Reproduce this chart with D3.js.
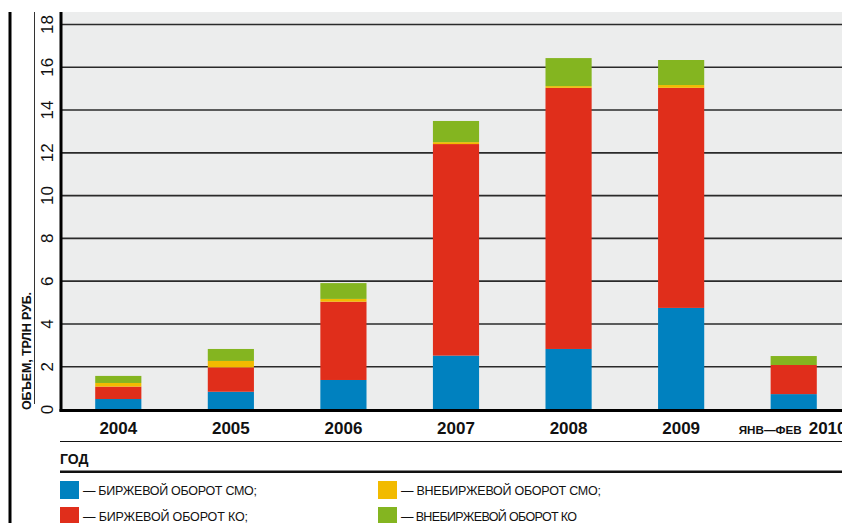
<!DOCTYPE html>
<html>
<head>
<meta charset="utf-8">
<script src="https://cdn.jsdelivr.net/npm/d3@7"></script>
<style>
  html, body { margin: 0; padding: 0; background: #fff; }
  svg { display: block; }
</style>
</head>
<body>
<svg id="chart" width="842" height="523"></svg>
<script>
// Annual repo turnover, trillion roubles
const years = ["2004", "2005", "2006", "2007", "2008", "2009", "2010"];
const yearLabels = ["2004", "2005", "2006", "2007", "2008", "2009", "ЯНВ—ФЕВ 2010"];
const exchangeCB = [0.49, 0.83, 1.38, 2.52, 2.83, 4.75, 0.72];     // биржевой оборот СМО
const exchangeCO = [0.58, 1.14, 3.66, 9.89, 12.21, 10.29, 1.36];   // биржевой оборот КО
const otcCB = [0.17, 0.30, 0.13, 0.09, 0.08, 0.13, 0.00];          // внебиржевой оборот СМО
const otcCO = [0.33, 0.56, 0.74, 0.99, 1.31, 1.17, 0.42];          // внебиржевой оборот КО
const yTicks = [0, 2, 4, 6, 8, 10, 12, 14, 16, 18];
const seriesNames = [
  "— БИРЖЕВОЙ ОБОРОТ СМО;",
  "— БИРЖЕВОЙ ОБОРОТ КО;",
  "— ВНЕБИРЖЕВОЙ ОБОРОТ СМО;",
  "— ВНЕБИРЖЕВОЙ ОБОРОТ КО"
];
const seriesKeys = ["exCB", "exCO", "otcCB", "otcCO"];
const colors = ["#0081bf", "#e02e1b", "#f2bb00", "#84b520"];

const rows = years.map((y, i) => ({
  year: y,
  exCB: exchangeCB[i], exCO: exchangeCO[i], otcCB: otcCB[i], otcCO: otcCO[i]
}));

const svg = d3.select("#chart");
const W = 842;
const plotLeft = 61, plotTop = 12, plotBottom = 409.5;
const narrow = "'Liberation Sans Narrow', 'Liberation Sans', sans-serif";
const regular = "'Liberation Sans', Arial, sans-serif";

const x = d3.scaleBand().domain(years).range([62, 850]).paddingInner(0.59).paddingOuter(0.295);
const y = d3.scaleLinear().domain([0, 18]).range([plotBottom, 24.5]);

// plot background
svg.append("rect")
  .attr("x", plotLeft).attr("y", plotTop)
  .attr("width", W - plotLeft).attr("height", plotBottom - plotTop)
  .attr("fill", "#eceded");

// grid lines
svg.append("g").selectAll("line").data(yTicks.filter(t => t > 0)).join("line")
  .attr("x1", plotLeft).attr("x2", W)
  .attr("y1", d => y(d)).attr("y2", d => y(d))
  .attr("stroke", "#2a2a2a").attr("stroke-width", 1.6);

// stacked bars
const stack = d3.stack().keys(seriesKeys)(rows);
svg.append("g").selectAll("g").data(stack).join("g")
  .attr("fill", (d, i) => colors[i])
  .selectAll("rect").data(d => d).join("rect")
  .attr("x", d => x(d.data.year))
  .attr("width", x.bandwidth())
  .attr("y", d => y(d[1]))
  .attr("height", d => Math.max(0, y(d[0]) - y(d[1])));

// y axis (rotated tick labels)
const yAxis = d3.axisLeft(y).tickValues(yTicks).tickSize(0).tickFormat(d3.format("d"));
const gy = svg.append("g").attr("transform", `translate(${plotLeft},0)`).call(yAxis);
gy.select(".domain").remove();
gy.selectAll("text")
  .attr("x", 0).attr("dy", 0)
  .attr("transform", d => `translate(-8,${y(d)}) rotate(-90)`)
  .attr("text-anchor", "middle")
  .attr("font-family", regular)
  .attr("font-size", 17)
  .attr("fill", "#111");
gy.selectAll(".tick").attr("transform", null);

// thick left axis line and baseline
svg.append("line").attr("x1", plotLeft).attr("x2", plotLeft).attr("y1", plotTop).attr("y2", 411.5)
  .attr("stroke", "#000").attr("stroke-width", 3);
svg.append("line").attr("x1", plotLeft - 1.5).attr("x2", W).attr("y1", 410.5).attr("y2", 410.5)
  .attr("stroke", "#000").attr("stroke-width", 3);

// x axis labels
const xAxis = d3.axisBottom(x).tickSize(0).tickFormat((d, i) => yearLabels[i]);
const gx = svg.append("g").attr("transform", `translate(0,${plotBottom})`).call(xAxis);
gx.select(".domain").remove();
gx.selectAll("text").each(function(d, i) {
  const t = d3.select(this).text(null)
    .attr("y", 24.5).attr("dy", 0)
    .attr("font-family", regular)
    .attr("font-weight", "bold").attr("fill", "#111");
  const label = yearLabels[i];
  if (label.includes(" ")) {
    const parts = label.split(" ");
    t.attr("text-anchor", "start").attr("x", -55);
    t.append("tspan").attr("font-size", 11.5)
      .attr("textLength", 63).attr("lengthAdjust", "spacingAndGlyphs").text(parts[0]);
    t.append("tspan").attr("dx", 7).attr("font-size", 17).text(parts[1]);
  } else {
    t.attr("font-size", 17).text(label);
  }
});

// frame lines on the left
svg.append("line").attr("x1", 10).attr("x2", 10).attr("y1", plotTop).attr("y2", 523)
  .attr("stroke", "#000").attr("stroke-width", 3);
svg.append("line").attr("x1", 34.5).attr("x2", 34.5).attr("y1", plotTop).attr("y2", 404)
  .attr("stroke", "#333").attr("stroke-width", 1);

// y axis title
svg.append("text")
  .attr("transform", `translate(31,410) rotate(-90)`)
  .attr("text-anchor", "start")
  .attr("font-family", narrow)
  .attr("font-weight", "bold").attr("font-size", 12.5)
  .attr("textLength", 118).attr("lengthAdjust", "spacing")
  .attr("fill", "#111")
  .text("ОБЪЕМ, ТРЛН РУБ.");

// x axis title block
svg.append("line").attr("x1", 60).attr("x2", W).attr("y1", 441.5).attr("y2", 441.5)
  .attr("stroke", "#111").attr("stroke-width", 1.2);
svg.append("text").attr("x", 60).attr("y", 463.5)
  .attr("font-family", narrow)
  .attr("font-weight", "bold").attr("font-size", 14)
  .attr("fill", "#111")
  .text("ГОД");
svg.append("line").attr("x1", 60).attr("x2", W).attr("y1", 471.8).attr("y2", 471.8)
  .attr("stroke", "#111").attr("stroke-width", 2.6);

// legend
const legendPos = [[60, 481], [60, 507], [378, 481], [378, 507]];
const legendWidths = [174, 165, 200, 176];
const lg = svg.append("g").selectAll("g").data(seriesNames).join("g")
  .attr("transform", (d, i) => `translate(${legendPos[i][0]},${legendPos[i][1]})`);
lg.append("rect").attr("width", 19).attr("height", 18).attr("fill", (d, i) => colors[i]);
lg.append("text").attr("x", 23).attr("y", 14)
  .attr("font-family", narrow)
  .attr("font-size", 12.5).attr("fill", "#111")
  .attr("textLength", (d, i) => legendWidths[i]).attr("lengthAdjust", "spacing")
  .text(d => d);
</script>
</body>
</html>
